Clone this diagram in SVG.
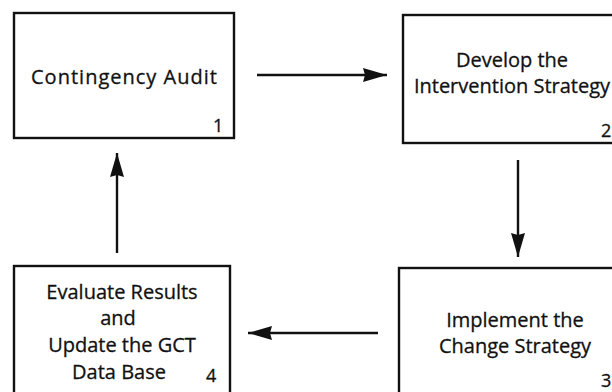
<svg xmlns="http://www.w3.org/2000/svg" width="612" height="392" viewBox="0 0 612 392">
<style>
.box{fill:#fff;stroke:#111;stroke-width:2.4}
.lbl{font-family:"Open Sans","DejaVu Sans",sans-serif;font-size:20px;fill:#111;stroke:#111;stroke-width:0.3;text-anchor:middle}
.num{font-family:"Open Sans","DejaVu Sans",sans-serif;font-size:18px;fill:#111;stroke:#111;stroke-width:0.3}
.conn{stroke:#111;stroke-width:2.4;fill:none;marker-end:url(#ah)}
</style>
<defs>
<marker id="ah" markerUnits="userSpaceOnUse" markerWidth="26" markerHeight="16" refX="24" refY="8" orient="auto">
<path d="M0,1 L24,8 L0,15 L2,8 Z" fill="#111"/>
</marker>
</defs>
<rect width="612" height="392" fill="#fff"/>
<g id="node1">
<rect class="box" x="14" y="13" width="220" height="125"/>
<text class="lbl" x="124" y="84" textLength="186" lengthAdjust="spacing">Contingency Audit</text>
<text class="num" x="213" y="132">1</text>
</g>
<g id="node2">
<rect class="box" x="403" y="15" width="225" height="128"/>
<text class="lbl" x="512" y="67">Develop the</text>
<text class="lbl" x="512" y="93">Intervention Strategy</text>
<text class="num" x="601" y="137">2</text>
</g>
<g id="node3">
<rect class="box" x="399" y="268" width="225" height="140"/>
<text class="lbl" x="515" y="327">Implement the</text>
<text class="lbl" x="515" y="353">Change Strategy</text>
<text class="num" x="601" y="387">3</text>
</g>
<g id="node4">
<rect class="box" x="14" y="266" width="216" height="140"/>
<text class="lbl" x="122" y="299">Evaluate Results</text>
<text class="lbl" x="118" y="325">and</text>
<text class="lbl" x="122" y="352">Update the GCT</text>
<text class="lbl" x="119" y="379">Data Base</text>
<text class="num" x="206" y="382">4</text>
</g>
<g id="connectors">
<line class="conn" x1="257" y1="75" x2="387" y2="75"/>
<line class="conn" x1="518" y1="160" x2="518" y2="257"/>
<line class="conn" x1="378" y1="333" x2="248" y2="333"/>
<line class="conn" x1="117" y1="253" x2="117" y2="153"/>
</g>
</svg>
